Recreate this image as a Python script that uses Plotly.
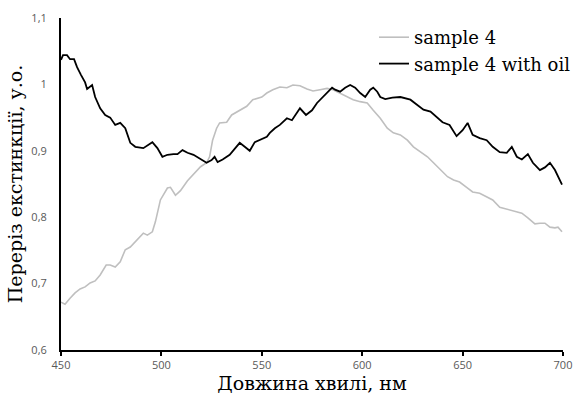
import plotly.graph_objects as go

wl_oil = [450.0, 451.0, 453.0, 454.5, 456.5, 458.0, 460.0, 462.0, 463.0, 465.5, 467.0, 469.5, 472.0, 474.5,
          477.0, 479.5, 482.0, 484.5, 487.0, 491.0, 495.5, 498.0, 500.5, 503.0, 506.0, 508.0, 510.5, 513.0,
          516.0, 519.0, 522.5, 525.0, 526.5, 528.0, 530.5, 534.0, 539.0, 541.5, 544.0, 546.5, 549.0, 552.5,
          554.0, 556.5, 559.0, 562.5, 565.0, 567.5, 569.0, 572.0, 575.0, 577.5, 580.5, 583.0, 585.0, 586.5,
          589.0, 591.5, 594.0, 596.5, 599.0, 601.5, 604.0, 605.5, 607.5, 609.0, 611.5, 615.0, 619.0, 624.0,
          627.5, 630.5, 634.0, 637.0, 640.0, 643.5, 647.0, 650.0, 652.5, 655.0, 658.5, 662.0, 665.0, 668.5,
          672.0, 674.5, 677.0, 679.5, 682.5, 685.0, 688.5, 691.0, 693.5, 696.0, 697.5, 699.5]
val_oil = [1.037, 1.044, 1.044, 1.038, 1.038, 1.026, 1.014, 1.003, 0.993, 0.999, 0.981, 0.964, 0.954, 0.950,
           0.939, 0.942, 0.934, 0.912, 0.906, 0.904, 0.913, 0.904, 0.891, 0.894, 0.895, 0.895, 0.901, 0.897,
           0.894, 0.889, 0.882, 0.886, 0.891, 0.883, 0.887, 0.894, 0.912, 0.906, 0.900, 0.913, 0.916, 0.921,
           0.927, 0.934, 0.939, 0.949, 0.946, 0.958, 0.964, 0.954, 0.961, 0.972, 0.981, 0.989, 0.995, 0.992,
           0.989, 0.995, 0.999, 0.995, 0.987, 0.981, 0.992, 0.995, 0.989, 0.981, 0.978, 0.980, 0.981, 0.977,
           0.969, 0.962, 0.959, 0.951, 0.943, 0.939, 0.922, 0.931, 0.942, 0.924, 0.919, 0.916, 0.906, 0.898,
           0.897, 0.906, 0.891, 0.887, 0.895, 0.882, 0.871, 0.875, 0.882, 0.871, 0.861, 0.849]

wl_s4 = [450.0, 452.0, 454.5, 457.0, 459.5, 462.0, 464.5, 467.0, 469.5, 472.5, 474.5, 477.0, 479.5, 482.0,
         484.5, 487.0, 489.5, 491.0, 493.0, 495.5, 497.0, 499.5, 503.0, 504.5, 507.0, 509.5, 513.0, 519.5,
         522.5, 524.0, 525.5, 527.5, 529.0, 532.5, 535.0, 539.0, 542.5, 545.5, 550.0, 552.5, 555.5, 559.0,
         562.5, 565.5, 569.0, 572.5, 575.5, 579.0, 582.5, 585.5, 589.0, 592.5, 595.5, 599.0, 602.5, 605.5,
         609.0, 612.5, 615.5, 619.0, 622.5, 625.5, 629.0, 632.5, 635.5, 639.0, 642.5, 645.5, 648.5, 652.0,
         655.0, 658.5, 662.0, 665.0, 668.5, 672.0, 676.0, 679.5, 682.5, 686.0, 688.5, 691.0, 693.5, 696.0,
         697.5, 699.5]
val_s4 = [0.672, 0.669, 0.678, 0.686, 0.692, 0.695, 0.701, 0.704, 0.713, 0.728, 0.728, 0.725, 0.733, 0.751,
          0.755, 0.763, 0.770, 0.776, 0.773, 0.778, 0.793, 0.826, 0.844, 0.845, 0.833, 0.840, 0.855, 0.876,
          0.882, 0.891, 0.916, 0.934, 0.942, 0.943, 0.954, 0.961, 0.967, 0.977, 0.981, 0.987, 0.992, 0.996,
          0.995, 0.999, 0.998, 0.993, 0.990, 0.992, 0.994, 0.992, 0.987, 0.981, 0.977, 0.974, 0.972, 0.961,
          0.949, 0.934, 0.927, 0.924, 0.916, 0.906, 0.898, 0.891, 0.882, 0.871, 0.861, 0.856, 0.853, 0.845,
          0.838, 0.836, 0.830, 0.826, 0.815, 0.812, 0.808, 0.806, 0.799, 0.790, 0.791, 0.791, 0.785, 0.784,
          0.785, 0.778]

x_ticks = [450, 500, 550, 600, 650, 700]
y_ticks = [0.6, 0.7, 0.8, 0.9, 1.0, 1.1]
y_tick_labels = ["0,6", "0,7", "0,8", "0,9", "1", "1,1"]

serif = "DejaVu Serif"
sans = "Open Sans"

fig = go.Figure()
fig.add_trace(go.Scatter(x=wl_s4, y=val_s4, mode="lines", name="sample 4",
                         line=dict(color="#BFBFBF", width=1.6), legendgroup="a"))
fig.add_trace(go.Scatter(x=wl_oil, y=val_oil, mode="lines", name="sample 4 with oil",
                         line=dict(color="#000000", width=1.8), legendgroup="b"))

fig.update_layout(
    width=576, height=394,
    margin=dict(l=61, r=0, t=18, b=44, autoexpand=False),
    paper_bgcolor="white", plot_bgcolor="white",
    showlegend=True,
    legend=dict(x=1.0, xanchor="right", y=0.997, yanchor="top",
                font=dict(family=serif, size=18, color="#000000"),
                bgcolor="rgba(0,0,0,0)", tracegroupgap=0, itemwidth=30),
    xaxis=dict(domain=[0, 502 / 515], range=[450, 700], tickvals=x_ticks, ticks="outside", ticklen=4,
               tickwidth=1.5, tickcolor="black", showline=True, linecolor="black", linewidth=2,
               showgrid=False, zeroline=False, tickfont=dict(family=sans, size=11, color="#595959"),
               title=dict(text="Довжина хвилі, нм", font=dict(family=serif, size=19, color="#000000"),
                          standoff=2)),
    yaxis=dict(range=[0.6, 1.1], tickvals=y_ticks, ticktext=y_tick_labels, ticks="",
               ticklabelstandoff=10, showline=True, linecolor="black", linewidth=2, showgrid=False,
               zeroline=False, tickfont=dict(family=sans, size=11, color="#595959"),
               title=dict(text="Переріз екстинкції, у.о.", font=dict(family=serif, size=19, color="#000000"),
                          standoff=4)),
)

fig.write_html("out.html")
